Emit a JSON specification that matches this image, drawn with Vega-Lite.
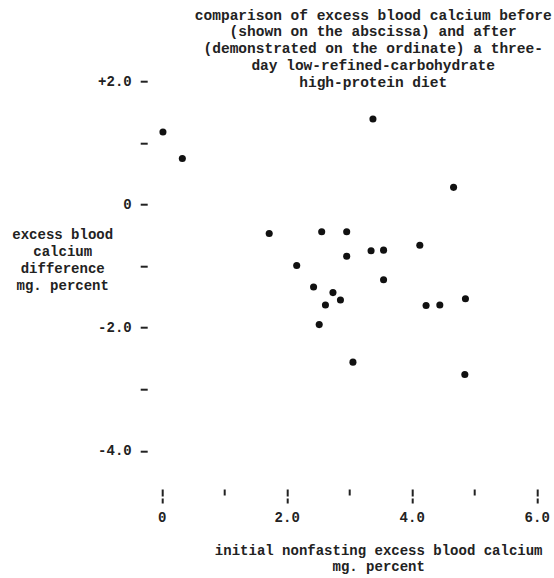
{
  "$schema": "https://vega.github.io/schema/vega-lite/v6.json",
  "autosize": "none",
  "width": 400,
  "height": 433.9,
  "padding": {"left": 149.2, "top": 69.2, "right": 4.8, "bottom": 74.9},
  "background": "white",
  "config": {"view": {"stroke": null}, "font": "Liberation Mono"},
  "title": {
    "text": ["comparison of excess blood calcium before", "(shown on the abscissa) and after", "(demonstrated on the ordinate) a three-", "day low-refined-carbohydrate", "high-protein diet"],
    "anchor": "middle",
    "align": "center",
    "dx": 24,
    "dy": 21,
    "offset": 0,
    "font": "Liberation Mono",
    "fontSize": 14.5,
    "fontWeight": "bold",
    "lineHeight": 16.8,
    "color": "#222"
  },
  "data": {
    "values": [
      {"initial": 0.02, "difference": 1.18},
      {"initial": 0.33, "difference": 0.75},
      {"initial": 1.72, "difference": -0.47},
      {"initial": 2.16, "difference": -0.99},
      {"initial": 2.56, "difference": -0.44},
      {"initial": 2.96, "difference": -0.44},
      {"initial": 2.96, "difference": -0.84},
      {"initial": 2.43, "difference": -1.34},
      {"initial": 2.74, "difference": -1.43},
      {"initial": 2.86, "difference": -1.55},
      {"initial": 2.62, "difference": -1.63},
      {"initial": 2.52, "difference": -1.95},
      {"initial": 3.06, "difference": -2.56},
      {"initial": 3.38, "difference": 1.39},
      {"initial": 3.35, "difference": -0.75},
      {"initial": 3.55, "difference": -0.74},
      {"initial": 3.55, "difference": -1.22},
      {"initial": 4.13, "difference": -0.66},
      {"initial": 4.23, "difference": -1.64},
      {"initial": 4.45, "difference": -1.63},
      {"initial": 4.67, "difference": 0.28},
      {"initial": 4.86, "difference": -1.53},
      {"initial": 4.85, "difference": -2.76}
    ]
  },
  "mark": {"type": "point", "filled": true, "size": 50, "color": "#111", "opacity": 1},
  "encoding": {
    "x": {
      "field": "initial",
      "type": "quantitative",
      "scale": {"domain": [-0.2, 6.2], "nice": false, "zero": false},
      "axis": {
        "values": [0, 1, 2, 3, 4, 5, 6],
        "labelExpr": "datum.value == 0 ? '0' : (datum.value % 2 == 0 ? format(datum.value, '.1f') : '')",
        "domain": false,
        "grid": false,
        "tickSize": -15,
        "tickWidth": 2,
        "tickColor": "#222",
        "tickCap": "butt",
        "tickDash": {"condition": {"test": "datum.value % 2 == 0", "value": [5, 2, 7, 50]}, "value": [0, 8, 6, 50]},
        "labelFont": "Liberation Mono",
        "labelFontSize": 14,
        "labelFontWeight": "bold",
        "labelColor": "#222",
        "labelPadding": 22,
        "labelFlush": false,
        "labelOverlap": false,
        "title": ["initial nonfasting excess blood calcium", "mg. percent"],
        "titleFont": "Liberation Mono",
        "titleFontSize": 14,
        "titleFontWeight": "bold",
        "titleColor": "#222",
        "titleLineHeight": 16.7,
        "titleAlign": "center",
        "titleBaseline": "top",
        "titleX": 229,
        "titleY": 40
      }
    },
    "y": {
      "field": "difference",
      "type": "quantitative",
      "scale": {"domain": [-4.85, 2.2], "nice": false, "zero": false},
      "axis": {
        "values": [-4, -3, -2, -1, 0, 1, 2],
        "labelExpr": "datum.value == 2 ? '+2.0' : (datum.value == 0 ? '0' : (datum.value == -2 ? '-2.0' : (datum.value == -4 ? '-4.0' : '')))",
        "domain": false,
        "grid": false,
        "offset": 2,
        "tickSize": 7,
        "tickWidth": 2,
        "tickColor": "#222",
        "labelFont": "Liberation Mono",
        "labelFontSize": 14,
        "labelFontWeight": "bold",
        "labelColor": "#222",
        "labelPadding": 9,
        "labelOverlap": false,
        "labelFlush": false,
        "title": ["excess blood", "calcium", "difference", "mg. percent"],
        "titleFont": "Liberation Mono",
        "titleFontSize": 14,
        "titleFontWeight": "bold",
        "titleColor": "#222",
        "titleLineHeight": 17,
        "titleAngle": 0,
        "titleAlign": "center",
        "titleBaseline": "top",
        "titleX": -85,
        "titleY": 158
      }
    }
  }
}
